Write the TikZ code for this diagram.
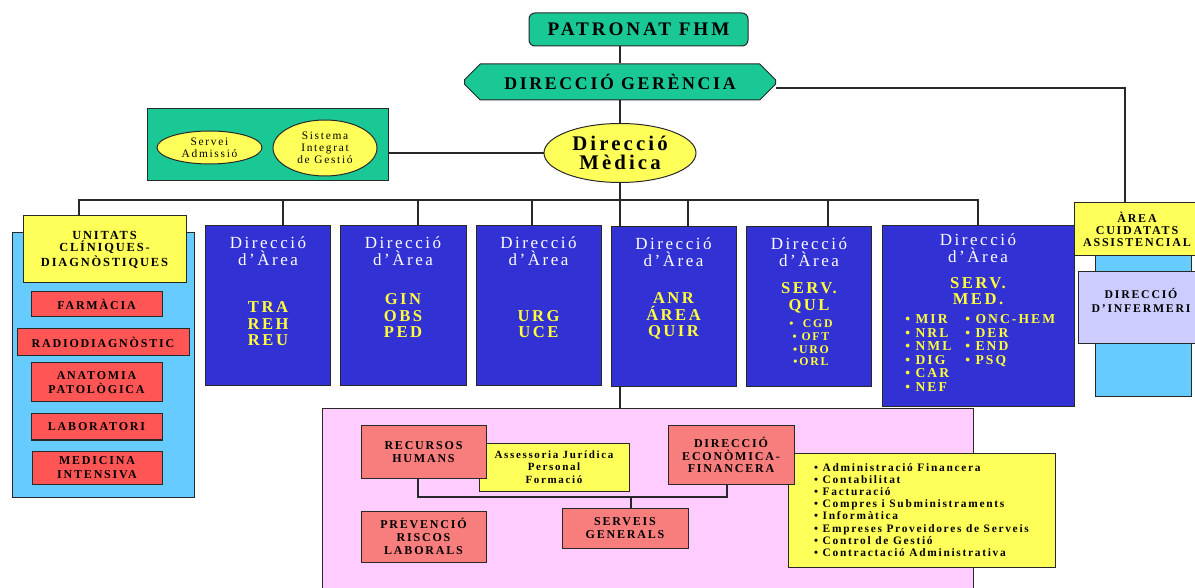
\documentclass[tikz,border=0pt]{standalone}
\usepackage{fontspec}
\setmainfont{Liberation Serif}
\newfontfamily\wfont[LetterSpace=15]{Liberation Serif}
\usetikzlibrary{shapes.geometric,shapes.misc,positioning}
\definecolor{tealclr}{RGB}{26,200,150}
\definecolor{yelclr}{RGB}{255,255,90}
\definecolor{areaclr}{RGB}{50,50,212}
\definecolor{codeclr}{RGB}{255,255,60}
\definecolor{redclr}{RGB}{255,85,85}
\definecolor{salmonclr}{RGB}{248,125,125}
\definecolor{skyclr}{RGB}{102,204,255}
\definecolor{lavclr}{RGB}{204,204,255}
\definecolor{pinkclr}{RGB}{255,204,255}
\definecolor{lineclr}{RGB}{40,40,40}

\tikzset{
  orgbox/.style={draw=lineclr, line width=0.5pt, inner sep=1pt, align=center},
  tealbox/.style={orgbox, fill=tealclr, font=\wfont\bfseries\fontsize{8.9}{9}\selectfont},
  yelell/.style={ellipse, draw=lineclr, line width=0.5pt, fill=yelclr, inner sep=0pt,
                 align=center, font=\wfont\fontsize{5.7}{6.1}\selectfont},
  redbox/.style={orgbox, fill=redclr, font=\wfont\bfseries\fontsize{6}{7}\selectfont},
  salmonbox/.style={orgbox, fill=salmonclr, minimum width=62.5pt,
                    font=\wfont\bfseries\fontsize{6}{6.3}\selectfont},
  areabox/.style={orgbox, fill=areaclr, minimum width=62.5pt, minimum height=80pt},
  areahead/.style={text=white, align=center, inner sep=0pt,
                   font=\wfont\fontsize{8.5}{8.5}\selectfont},
  areacode/.style={text=codeclr, align=center, inner sep=0pt,
                   font=\wfont\bfseries\fontsize{8.3}{8.25}\selectfont},
  link/.style={draw=lineclr, line width=0.6pt}
}

\begin{document}
\begin{tikzpicture}[x=0.5pt, y=-0.5pt]
\useasboundingbox (0,0) rectangle (1195,588);

\node[tealbox, rounded corners=3pt, minimum width=109.5pt, minimum height=16.5pt,
      font=\wfont\bfseries\fontsize{9.6}{9}\selectfont]
  (pat) at (638.5,29.5) {PATRONAT FHM};
\node[tealbox, chamfered rectangle, chamfered rectangle xsep=6pt, chamfered rectangle ysep=3pt,
      minimum width=155.5pt, minimum height=18pt]
  (ger) at (620,82) {DIRECCIÓ GERÈNCIA};

\node[orgbox, fill=tealclr, minimum width=120.5pt, minimum height=36pt] (adm) at (267.5,145) {};
\node[yelell, minimum width=52.5pt, minimum height=16.5pt] (serv) at (209.5,147.5) {Servei\\Admissió};
\node[yelell, minimum width=52pt, minimum height=28pt] (sist) at (325,148) {Sistema\\Integrat\\de Gestió};
\node[yelell, minimum width=76pt, minimum height=29.5pt,
      font=\wfont\bfseries\fontsize{10.4}{9.5}\selectfont] (dm) at (620,153) {Direcció\\Mèdica};

\node[orgbox, fill=pinkclr, minimum width=325.5pt, minimum height=95.5pt] (pink) at (647.5,504.5) {};

\draw[link] (pat.south -| ger.north) -- (ger.north);
\draw[link] (ger.south) -- (dm.north);
\draw[link] (adm.east |- dm.west) -- (dm.west);
\draw[link] (dm.south) -- (dm.south |- pink.north);
\coordinate (bus) at (620,200);

% unitats clíniques
\node[orgbox, fill=skyclr, minimum width=91pt, minimum height=132pt] (ucd-p) at (103,365) {};
\node[orgbox, fill=yelclr, minimum width=81.5pt, minimum height=33.5pt,
      font=\wfont\bfseries\fontsize{6.2}{6.2}\selectfont]
  (ucd) at (104.5,249.5) {UNITATS\\CLÍNIQUES-\\DIAGNÒSTIQUES};
\node[redbox, minimum width=65.5pt, minimum height=12.5pt] (farm) at (96.5,304.5) {FARMÀCIA};
\node[redbox, minimum width=86pt, minimum height=13.5pt] (radio) at (103,342.5) {RADIODIAGNÒSTIC};
\node[redbox, minimum width=65.5pt, minimum height=19.5pt] (anat) at (96.5,382.5) {ANATOMIA\\PATOLÒGICA};
\node[redbox, minimum width=65.5pt, minimum height=13pt] (lab) at (96.5,427) {LABORATORI};
\node[redbox, minimum width=65pt, minimum height=16.5pt] (mi) at (97,467.5) {MEDICINA\\INTENSIVA};

% direccions d'àrea
\node[areabox] (tra) at (268,306) {};
\node[areahead, below=5.5pt of tra.north] (tra-h) {Direcció\\d’Àrea};
\node[areacode] (tra-c) at (268,324) {TRA\\REH\\REU};
\node[areabox, minimum width=63pt] (gin) at (403,306) {};
\node[areahead, below=5.5pt of gin.north] (gin-h) {Direcció\\d’Àrea};
\node[areacode] (gin-c) at (403,316) {GIN\\OBS\\PED};
\node[areabox] (urg) at (538.5,306) {};
\node[areahead, below=5.5pt of urg.north] (urg-h) {Direcció\\d’Àrea};
\node[areacode] (urg-c) at (538.5,324) {URG\\UCE};
\node[areabox] (anr) at (673.5,306.5) {};
\node[areahead, below=5.5pt of anr.north] (anr-h) {Direcció\\d’Àrea};
\node[areacode] (anr-c) at (673.5,316) {ANR\\ÁREA\\QUIR};
\node[areabox] (qul) at (809,306.5) {};
\node[areahead, below=5.5pt of qul.north] (qul-h) {Direcció\\d’Àrea};
\node[areacode] (qul-c) at (809,298) {SERV.\\QUL};
\node[areacode, font=\wfont\bfseries\fontsize{5.9}{6.35}\selectfont]
  (qul-l) at (811,343) {\textbullet\ \ CGD\\\textbullet\ OFT\\\textbullet URO\\\textbullet ORL};
\node[areabox, minimum width=96pt, minimum height=90.5pt] (med) at (978,316.5) {};
\node[areahead, below=4pt of med.north] (med-h) {Direcció\\d’Àrea};
\node[areacode] (med-c) at (978,291) {SERV.\\MED.};
\node[areacode, anchor=north west, font=\wfont\bfseries\fontsize{6.8}{6.75}\selectfont]
  (med-l) at (905,314) {\begin{tabular}{@{}l@{\hspace{7pt}}l@{}}
    \textbullet\ MIR & \textbullet\ ONC-HEM\\
    \textbullet\ NRL & \textbullet\ DER\\
    \textbullet\ NML & \textbullet\ END\\
    \textbullet\ DIG & \textbullet\ PSQ\\
    \textbullet\ CAR & \\
    \textbullet\ NEF &
  \end{tabular}};

\draw[link] ([xshift=-12.75pt]ucd.north) |- (bus);
\draw[link] ([xshift=7.5pt]tra.north) |- (bus);
\draw[link] ([xshift=7.5pt]gin.north) |- (bus);
\draw[link] ([xshift=-3.25pt]urg.north) |- (bus);
\draw[link] ([xshift=7.25pt]anr.north) |- (bus);
\draw[link] ([xshift=9.5pt]qul.north) |- (bus);
\draw[link] (med.north) |- (bus);

% cures assistencials
\node[orgbox, fill=skyclr, minimum width=48pt, minimum height=70.5pt] (acu-p) at (1143,326.5) {};
\node[orgbox, fill=yelclr, minimum width=63pt, minimum height=26.5pt,
      font=\wfont\bfseries\fontsize{6}{6}\selectfont]
  (acu) at (1137,229.5) {ÀREA\\CUIDATATS\\ASSISTENCIAL};
\node[orgbox, fill=lavclr, minimum width=66pt, minimum height=36pt] (inf) at (1144,308) {};
\node[inner sep=0pt, align=center, font=\wfont\bfseries\fontsize{5.9}{7}\selectfont]
  (inf-t) at (1141,300) {DIRECCIÓ\\D’INFERMERI};
\draw[link] ([yshift=-3pt]ger.east) -| ([xshift=-6pt]acu.north);

% serveis de suport
\node[orgbox, fill=yelclr, minimum width=75pt, minimum height=24pt,
      font=\wfont\bfseries\fontsize{5.5}{6.3}\selectfont]
  (ajur) at (554,467) {Assessoria Jurídica\\Personal\\Formació};
\node[salmonbox, minimum height=26pt] (rrhh) at (423.5,452) {RECURSOS\\HUMANS};
\node[orgbox, fill=yelclr, minimum width=133.5pt, minimum height=57pt, align=left,
      font=\wfont\bfseries\fontsize{5.7}{6.07}\selectfont]
  (fin) at (921.5,510) {\textbullet\ Administració Financera\\
    \textbullet\ Contabilitat\\
    \textbullet\ Facturació\\
    \textbullet\ Compres i Subministraments\\
    \textbullet\ Informàtica\\
    \textbullet\ Empreses Proveidores de Serveis\\
    \textbullet\ Control de Gestió\\
    \textbullet\ Contractació Administrativa};
\node[salmonbox, minimum width=63pt, minimum height=29pt] (def) at (731,455) {DIRECCIÓ\\ECONÒMICA-\\FINANCERA};
\node[salmonbox, minimum height=25.5pt] (prev) at (423.5,536.5) {PREVENCIÓ\\RISCOS\\LABORALS};
\node[salmonbox, minimum width=63pt, minimum height=20pt] (sg) at (625,528) {SERVEIS\\GENERALS};

\coordinate (sgj) at (631,497);
\draw[link] ([xshift=-2.75pt]rrhh.south) |- (sgj) -| ([xshift=-2pt]def.south);
\draw[link] (sgj) -- (sgj |- sg.north);
\end{tikzpicture}
\end{document}
